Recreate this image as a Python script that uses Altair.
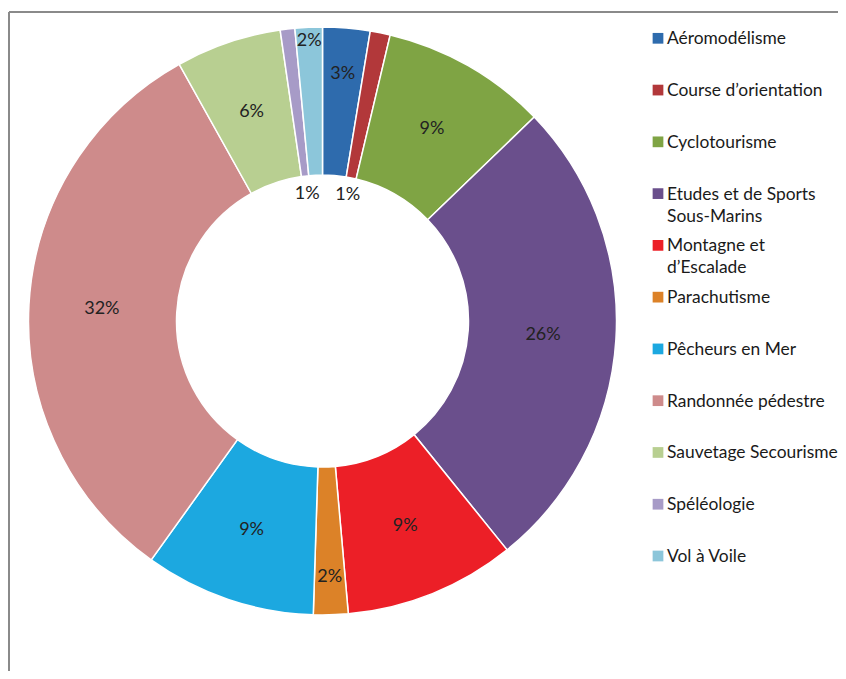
import altair as alt
import pandas as pd

categories = [
    "Aéromodélisme", "Course d’orientation", "Cyclotourisme",
    "Etudes et de Sports Sous-Marins", "Montagne et d’Escalade",
    "Parachutisme", "Pêcheurs en Mer", "Randonnée pédestre",
    "Sauvetage Secourisme", "Spéléologie", "Vol à Voile",
]
legend_text = [
    "Aéromodélisme", "Course d’orientation", "Cyclotourisme",
    "Etudes et de Sports\nSous-Marins", "Montagne et\nd’Escalade",
    "Parachutisme", "Pêcheurs en Mer", "Randonnée pédestre",
    "Sauvetage Secourisme", "Spéléologie", "Vol à Voile",
]
values = [2.6, 1.1, 9.1, 26.4, 9.4, 1.9, 9.4, 32.0, 5.8, 0.8, 1.5]
pct_labels = ["3%", "1%", "9%", "26%", "9%", "2%", "9%", "32%", "6%", "1%", "2%"]

colors = ["#2E6BAD", "#B2383A", "#7FA444", "#6A4F8C", "#EC1F27", "#DC8228",
          "#1CA8E0", "#CE8B8B", "#B8CF91", "#A79BC7", "#8CC6DA"]

df = pd.DataFrame({
    "cat": categories,
    "legend": legend_text,
    "value": values,
    "label": pct_labels,
    "idx": list(range(len(categories))),
})

# label radius (pixels) per slice: default at ring middle, some moved
label_r = {
    "Aéromodélisme": 248, "Course d’orientation": 128, "Parachutisme": 256,
    "Spéléologie": 128, "Vol à Voile": 280,
}
r_expr = "221"
for k, v in label_r.items():
    r_expr = f"datum.cat === '{k}' ? {v} : ({r_expr})"

CX, CY = 314.5, 313
FONT = "Lato"
W, H = 830, 663

base = alt.Chart(df)
color = alt.Color("cat:N", scale=alt.Scale(domain=categories, range=colors), legend=None)

arcs = base.mark_arc(
    outerRadius=294, innerRadius=146, stroke="#ffffff", strokeWidth=1.5
).encode(
    theta=alt.Theta("value:Q", stack=True),
    color=color,
    order=alt.Order("idx:Q"),
    x=alt.value(CX),
    y=alt.value(CY),
)

labels = base.transform_window(
    cum="sum(value)", sort=[alt.SortField("idx")], frame=[None, 0]
).transform_calculate(
    mid="datum.cum - datum.value / 2", r=r_expr
).mark_text(
    font=FONT, fontSize=18, color="#222222", baseline="middle", align="center"
).encode(
    theta=alt.Theta("mid:Q", stack=None),
    radius=alt.Radius("r:Q", scale=None),
    text="label:N",
    x=alt.value(CX),
    y=alt.value(CY),
)

ypos = alt.Y("cat:N", scale=alt.Scale(type="point", domain=categories, range=[30.3, 548], padding=0), axis=None)

leg_sym = base.mark_point(shape="square", size=115, filled=True, opacity=1).encode(
    x=alt.value(650),
    y=ypos,
    color=color,
)

leg_txt = base.mark_text(
    font=FONT, fontSize=17.4, color="#1a1a1a", align="left", baseline="alphabetic",
    lineBreak="\n", lineHeight=22, dy=6
).encode(
    x=alt.value(659),
    y=ypos,
    text="legend:N",
)

frame_left = base.mark_rule(color="#8a8a8a", strokeWidth=2).encode(
    x=alt.value(1), y=alt.value(4), y2=alt.value(H)
)
frame_top = base.mark_rule(color="#8a8a8a", strokeWidth=2).encode(
    x=alt.value(1), x2=alt.value(W), y=alt.value(4)
)

chart = alt.layer(frame_left, frame_top, arcs, labels, leg_sym, leg_txt).properties(
    width=W, height=H, padding=0, autosize=alt.AutoSizeParams(type="none")
).configure_view(stroke=None)

chart.save("out.html", embed_options={"renderer": "svg", "actions": False})
